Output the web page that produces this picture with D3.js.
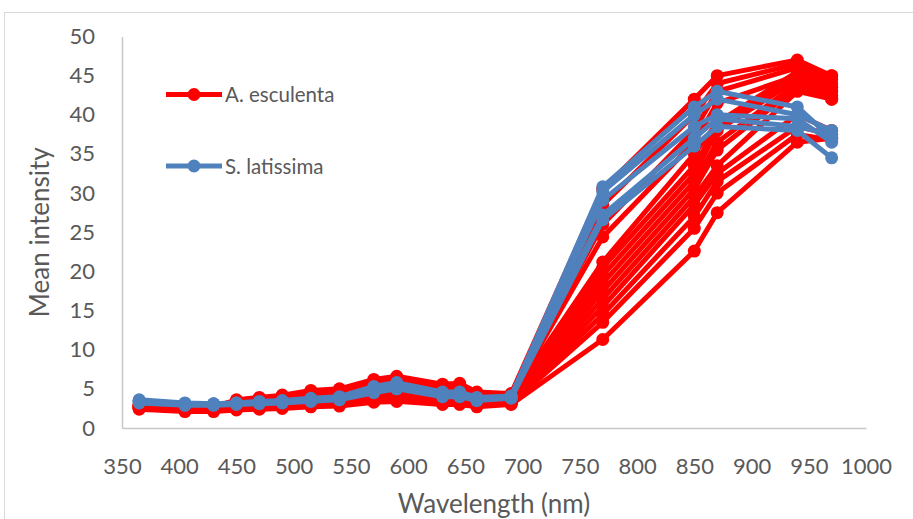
<!DOCTYPE html>
<html>
<head>
<meta charset="utf-8">
<script src="https://cdn.jsdelivr.net/npm/d3@7"></script>
<style>
  html, body { margin: 0; padding: 0; background: #fff; }
  svg { display: block; }
  text { font-family: Lato, "Open Sans", sans-serif; fill: #595959; }
</style>
</head>
<body>
<svg id="chart" width="913" height="519"></svg>
<script>
// Band wavelengths (nm)
const wavelengths = [365, 405, 430, 450, 470, 490, 515, 540, 570, 590, 630, 645, 660, 690, 770, 850, 870, 940, 970];

// Mean intensity per band, one row per sample
const esculenta = [
  [2.4,2.1,2.1,2.3,2.4,2.5,2.7,2.8,3.3,3.4,3.0,3.0,2.7,3.0, 11.3,22.6,27.5,36.5,37.0],
  [2.5,2.2,2.2,2.4,2.5,2.7,2.9,3.0,3.6,3.7,3.2,3.2,2.9,3.1, 13.5,25.5,30.0,37.5,36.8],
  [2.5,2.2,2.3,2.5,2.6,2.8,3.0,3.1,3.8,3.9,3.3,3.3,3.0,3.2, 14.5,27.0,31.5,38.5,37.5],
  [2.6,2.3,2.3,2.6,2.7,2.9,3.2,3.3,4.0,4.2,3.5,3.5,3.1,3.3, 15.5,28.5,32.5,40.0,38.0],
  [2.6,2.3,2.4,2.7,2.8,3.0,3.3,3.5,4.2,4.4,3.7,3.7,3.3,3.4, 16.5,29.5,33.5,43.0,42.0],
  [2.7,2.4,2.4,2.8,2.9,3.1,3.5,3.6,4.4,4.7,3.9,3.9,3.4,3.5, 17.5,30.5,35.5,43.5,42.5],
  [2.7,2.4,2.5,2.9,3.0,3.3,3.6,3.8,4.7,5.0,4.1,4.1,3.5,3.6, 18.5,31.5,36.5,44.0,43.0],
  [2.7,2.4,2.5,3.0,3.1,3.4,3.8,4.0,4.9,5.2,4.3,4.3,3.7,3.7, 19.5,32.5,38.0,44.5,43.5],
  [2.8,2.5,2.5,3.1,3.3,3.5,3.9,4.2,5.1,5.5,4.5,4.6,3.8,3.8, 20.5,33.5,38.5,45.0,42.0],
  [2.8,2.5,2.6,3.2,3.4,3.7,4.1,4.4,5.4,5.8,4.8,4.9,4.0,4.0, 21.2,35.0,39.0,45.5,44.0],
  [2.8,2.5,2.6,3.3,3.5,3.8,4.3,4.6,5.6,6.0,5.0,5.1,4.1,4.1, 24.4,36.5,41.5,45.0,43.5],
  [2.9,2.6,2.6,3.4,3.7,4.0,4.5,4.7,5.8,6.2,5.2,5.3,4.3,4.2, 26.0,38.0,43.0,46.0,44.5],
  [2.9,2.6,2.7,3.5,3.8,4.1,4.6,4.9,6.0,6.4,5.4,5.5,4.4,4.3, 28.5,40.0,44.0,46.5,45.0],
  [2.9,2.6,2.7,3.6,3.9,4.2,4.8,5.0,6.2,6.6,5.6,5.7,4.6,4.4, 30.5,42.0,45.0,47.0,45.0]
];

const latissima = [
  [3.6,3.2,3.1,3.2,3.4,3.5,3.8,4.0,5.3,5.8,4.6,4.6,3.9,4.1, 30.8,41.0,43.0,41.0,37.0],
  [3.5,3.1,3.1,3.2,3.3,3.4,3.7,3.9,5.1,5.6,4.4,4.4,3.8,4.0, 30.2,40.0,42.0,40.0,38.0],
  [3.4,3.0,3.0,3.1,3.2,3.4,3.6,3.8,4.9,5.4,4.3,4.3,3.7,3.9, 29.1,38.5,40.0,39.5,36.5],
  [3.3,3.0,3.0,3.1,3.2,3.3,3.5,3.7,4.7,5.2,4.1,4.2,3.6,3.9, 27.2,37.0,39.5,38.5,37.5],
  [3.2,2.9,2.9,3.0,3.1,3.2,3.4,3.6,4.5,5.0,4.0,4.0,3.5,3.8, 26.6,36.0,38.5,38.0,34.5]
];

const seriesNames = ["A. esculenta", "S. latissima"];
const seriesColors = ["#FF0000", "#4F81BD"];
const xTicks = [350, 400, 450, 500, 550, 600, 650, 700, 750, 800, 850, 900, 950, 1000];
const yTicks = [0, 5, 10, 15, 20, 25, 30, 35, 40, 45, 50];

const svg = d3.select("#chart");

// Chart area border
svg.append("rect")
  .attr("x", 4.5).attr("y", 12.5)
  .attr("width", 920).attr("height", 520)
  .attr("fill", "#fff").attr("stroke", "#D9D9D9").attr("stroke-width", 1);

const x = d3.scaleLinear().domain([350, 1000]).range([122, 866]);
const y = d3.scaleLinear().domain([0, 50]).range([428, 36.5]);

// Axes without tick marks
const xAxis = svg.append("g")
  .attr("transform", `translate(0,${y(0)})`)
  .call(d3.axisBottom(x).tickValues(xTicks).tickSize(0).tickPadding(30).tickFormat(d3.format("d")));
xAxis.select(".domain").attr("stroke", "#C8C8C8").attr("stroke-width", 1.5);
xAxis.selectAll("text").attr("font-size", 22).attr("font-family", "Lato, sans-serif").attr("fill", "#595959");

const yAxis = svg.append("g")
  .attr("transform", `translate(${x(350)},0)`)
  .call(d3.axisLeft(y).tickValues(yTicks).tickSize(0).tickPadding(27).tickFormat(d3.format("d")));
yAxis.select(".domain").attr("stroke", "#C8C8C8").attr("stroke-width", 1.5);
yAxis.selectAll("text").attr("font-size", 22).attr("font-family", "Lato, sans-serif").attr("fill", "#595959");

// Axis titles
svg.append("text")
  .attr("x", (x(350) + x(1000)) / 2).attr("y", 513)
  .attr("text-anchor", "middle").attr("font-size", 26)
  .text("Wavelength (nm)");
svg.append("text")
  .attr("transform", `translate(49,${(y(0) + y(50)) / 2}) rotate(-90)`)
  .attr("text-anchor", "middle").attr("font-size", 26)
  .text("Mean intensity");

const line = d3.line()
  .x((d, i) => x(wavelengths[i]))
  .y(d => y(d));

function drawGroup(rows, color) {
  const g = svg.append("g");
  rows.forEach(row => {
    const s = g.append("g");
    s.append("path")
      .datum(row)
      .attr("d", line)
      .attr("fill", "none")
      .attr("stroke", color)
      .attr("stroke-width", 5)
      .attr("stroke-linejoin", "round");
    s.selectAll("circle")
      .data(row)
      .join("circle")
      .attr("cx", (d, i) => x(wavelengths[i]))
      .attr("cy", d => y(d))
      .attr("r", 6.5)
      .attr("fill", color);
  });
}

drawGroup(esculenta, seriesColors[0]);
drawGroup(latissima, seriesColors[1]);

// Legend
const legendRows = [94.5, 166];
seriesNames.forEach((name, i) => {
  const g = svg.append("g").attr("transform", `translate(166,${legendRows[i]})`);
  g.append("line").attr("x1", 0).attr("x2", 56).attr("y1", 0).attr("y2", 0)
    .attr("stroke", seriesColors[i]).attr("stroke-width", 5);
  g.append("circle").attr("cx", 28).attr("cy", 0).attr("r", 6.5).attr("fill", seriesColors[i]);
  g.append("text").attr("x", 59).attr("y", 7.5).attr("font-size", 20.5).text(name);
});
</script>
</body>
</html>
